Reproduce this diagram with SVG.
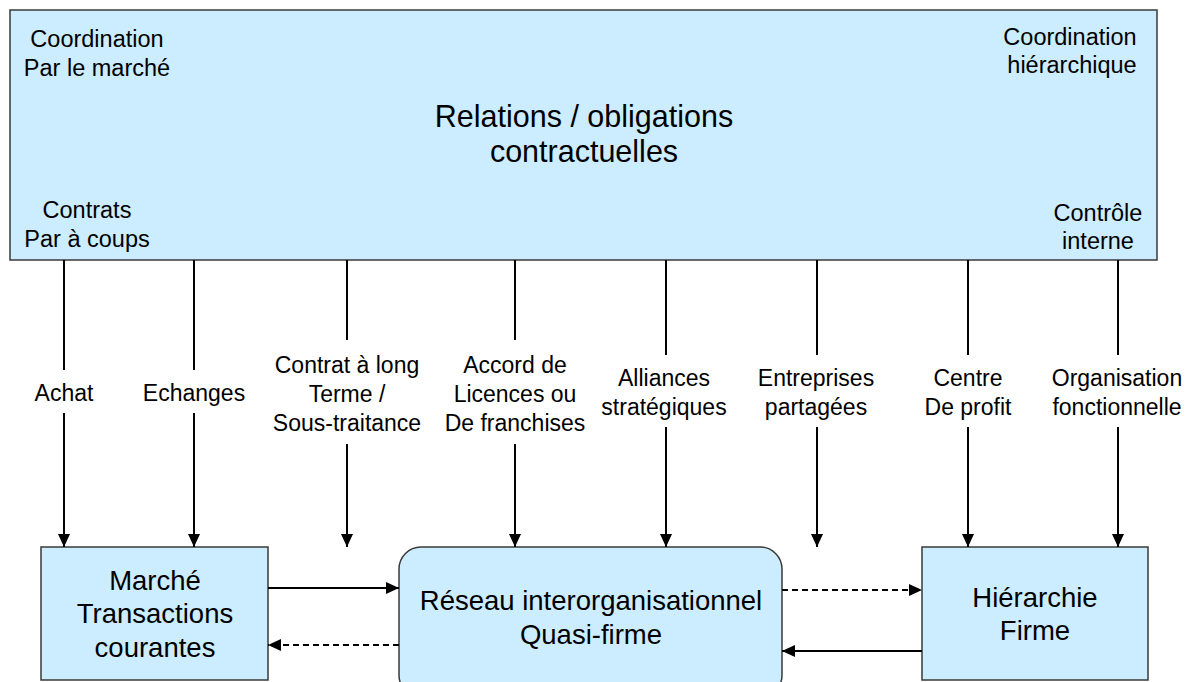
<svg xmlns="http://www.w3.org/2000/svg" width="1192" height="682" viewBox="0 0 1192 682">
  <defs>
    <marker id="arrow" markerUnits="userSpaceOnUse" markerWidth="14" markerHeight="14" viewBox="0 0 14 14" refX="13" refY="7" orient="auto">
      <path d="M0,1 L13,7 L0,13 Z" fill="#000"/>
    </marker>
    <style>
      .box { fill: #CCECFF; stroke: #3a3a3a; stroke-width: 1.5; }
      .t { font-family: "Liberation Sans", Arial, sans-serif; fill: #000; text-anchor: middle; }
      .corner { font-size: 23.5px; }
      .lbl { font-size: 23px; }
      .title { font-size: 30.5px; }
      .node { font-size: 27.5px; }
      .ln { stroke: #000; stroke-width: 2; fill: none; }
      .arr { stroke: #000; stroke-width: 2; fill: none; marker-end: url(#arrow); }
      .dash { stroke-dasharray: 6 4; }
    </style>
  </defs>

  <rect width="1192" height="682" fill="#fff"/>

  <!-- spectrum of contractual relations -->
  <g id="relations">
    <rect class="box" x="10" y="10" width="1147" height="250"/>
    <text class="t title" x="584" y="127">Relations / obligations</text>
    <text class="t title" x="584" y="162">contractuelles</text>
    <text class="t corner" x="97" y="47">Coordination</text>
    <text class="t corner" x="97" y="76">Par le marché</text>
    <text class="t corner" x="87" y="218">Contrats</text>
    <text class="t corner" x="87" y="247">Par à coups</text>
    <text class="t corner" x="1070" y="45" >Coordination</text>
    <text class="t corner" x="1072" y="73">hiérarchique</text>
    <text class="t corner" x="1098" y="221">Contrôle</text>
    <text class="t corner" x="1098" y="249">interne</text>
  </g>

  <g id="marche">
    <rect class="box" x="41" y="547" width="227" height="133"/>
    <text class="t node" x="155" y="590">Marché</text>
    <text class="t node" x="155" y="623">Transactions</text>
    <text class="t node" x="155" y="657">courantes</text>
  </g>

  <g id="reseau">
    <rect class="box" x="399" y="547" width="383" height="150" rx="22" ry="22"/>
    <text class="t node" x="591" y="610">Réseau interorganisationnel</text>
    <text class="t node" x="591" y="644">Quasi-firme</text>
  </g>

  <g id="hierarchie">
    <rect class="box" x="922" y="547" width="226" height="133"/>
    <text class="t node" x="1035" y="607">Hiérarchie</text>
    <text class="t node" x="1035" y="640">Firme</text>
  </g>

  <!-- connectors -->
  <g id="connectors">
    <!-- Achat -->
    <line class="ln" x1="64" y1="260" x2="64" y2="370"/>
    <line class="arr" x1="64" y1="413" x2="64" y2="547"/>
    <!-- Echanges -->
    <line class="ln" x1="194" y1="260" x2="194" y2="370"/>
    <line class="arr" x1="194" y1="413" x2="194" y2="547"/>
    <!-- Contrat à long terme -->
    <line class="ln" x1="347" y1="260" x2="347" y2="340"/>
    <line class="arr" x1="347" y1="444" x2="347" y2="547"/>
    <!-- Accord de licences -->
    <line class="ln" x1="515" y1="260" x2="515" y2="340"/>
    <line class="arr" x1="515" y1="444" x2="515" y2="547"/>
    <!-- Alliances -->
    <line class="ln" x1="666" y1="260" x2="666" y2="355"/>
    <line class="arr" x1="666" y1="427" x2="666" y2="547"/>
    <!-- Entreprises partagées -->
    <line class="ln" x1="817" y1="260" x2="817" y2="355"/>
    <line class="arr" x1="817" y1="427" x2="817" y2="547"/>
    <!-- Centre de profit -->
    <line class="ln" x1="968" y1="260" x2="968" y2="355"/>
    <line class="arr" x1="968" y1="427" x2="968" y2="547"/>
    <!-- Organisation fonctionnelle -->
    <line class="ln" x1="1118" y1="260" x2="1118" y2="355"/>
    <line class="arr" x1="1118" y1="427" x2="1118" y2="547"/>

    <!-- horizontal links -->
    <line class="arr" x1="268" y1="588" x2="399" y2="588"/>
    <line class="arr dash" x1="399" y1="645" x2="268" y2="645"/>
    <line class="arr dash" x1="782" y1="590" x2="922" y2="590"/>
    <line class="arr" x1="922" y1="651" x2="782" y2="651"/>
  </g>

  <!-- arrow labels -->
  <g id="labels">
    <text class="t lbl" x="64" y="401">Achat</text>
    <text class="t lbl" x="194" y="401">Echanges</text>
    <text class="t lbl" x="347" y="373">Contrat à long</text>
    <text class="t lbl" x="347" y="402">Terme /</text>
    <text class="t lbl" x="347" y="431">Sous-traitance</text>
    <text class="t lbl" x="515" y="373">Accord de</text>
    <text class="t lbl" x="515" y="402">Licences ou</text>
    <text class="t lbl" x="515" y="431">De franchises</text>
    <text class="t lbl" x="664" y="386">Alliances</text>
    <text class="t lbl" x="664" y="415">stratégiques</text>
    <text class="t lbl" x="816" y="386">Entreprises</text>
    <text class="t lbl" x="816" y="415">partagées</text>
    <text class="t lbl" x="968" y="386">Centre</text>
    <text class="t lbl" x="968" y="415">De profit</text>
    <text class="t lbl" x="1117" y="386">Organisation</text>
    <text class="t lbl" x="1117" y="415">fonctionnelle</text>
  </g>
</svg>
